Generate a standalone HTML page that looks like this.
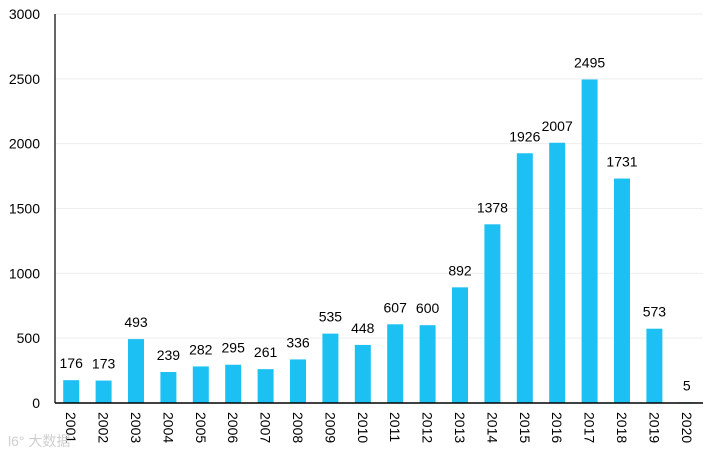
<!DOCTYPE html>
<html><head><meta charset="utf-8">
<style>
body{margin:0;background:#fff;}
svg{display:block;font-family:"Liberation Sans","Noto Sans CJK SC",sans-serif;}
</style></head>
<body>
<svg id="chart" width="716" height="454"></svg>
<script>
const categories=["2001","2002","2003","2004","2005","2006","2007","2008","2009","2010","2011","2012","2013","2014","2015","2016","2017","2018","2019","2020"];
const values=[176,173,493,239,282,295,261,336,535,448,607,600,892,1378,1926,2007,2495,1731,573,5];
const yTicks=[0,500,1000,1500,2000,2500,3000];
const NS="http://www.w3.org/2000/svg";
const svg=document.getElementById('chart');
const x0=55,x1=703,y0=403,y1=14,yMax=3000;
const bw=(x1-x0)/categories.length;
function yScale(v){return y0-(v/yMax)*(y0-y1);}
function xCenter(i){return x0+bw*(i+0.5);}
function mk(t,a){const e=document.createElementNS(NS,t);for(const k in a)e.setAttribute(k,a[k]);svg.appendChild(e);return e;}
yTicks.forEach(t=>{
  const y=yScale(t);
  if(t>0){const g=mk('line',{x1:x0,x2:x1,y1:y,y2:y,stroke:'#eeeeee','stroke-width':1});
  
  }
  const l=mk('text',{x:40,y:y+5,'text-anchor':'end','font-size':14,fill:'#000'});
  l.textContent=t;
  
  
});
values.forEach((v,i)=>{
  const cx=xCenter(i),y=yScale(v);
  const r=mk('rect',{x:cx-8,y:y,width:16,height:y0-y,fill:'#1CC0F2'});
  
  
  const t=mk('text',{x:cx,y:y-12,'text-anchor':'middle','font-size':14,fill:'#000'});
  t.textContent=v;
  
  
  const c=mk('text',{x:0,y:0,'font-size':14,fill:'#000',transform:`translate(${cx-5},${y0+9}) rotate(90)`});
  c.textContent=categories[i];
  
  
});
const ya=mk('line',{x1:x0,x2:x0,y1:y1,y2:y0,stroke:'#000','stroke-width':1.2});


const xa=mk('line',{x1:x0,x2:x1,y1:y0,y2:y0,stroke:'#000','stroke-width':1.5});


const w=mk('text',{x:8,y:446,'font-size':14,fill:'#cfcfcf'});
w.textContent='l6° 大数据';


</script>
</body></html>
